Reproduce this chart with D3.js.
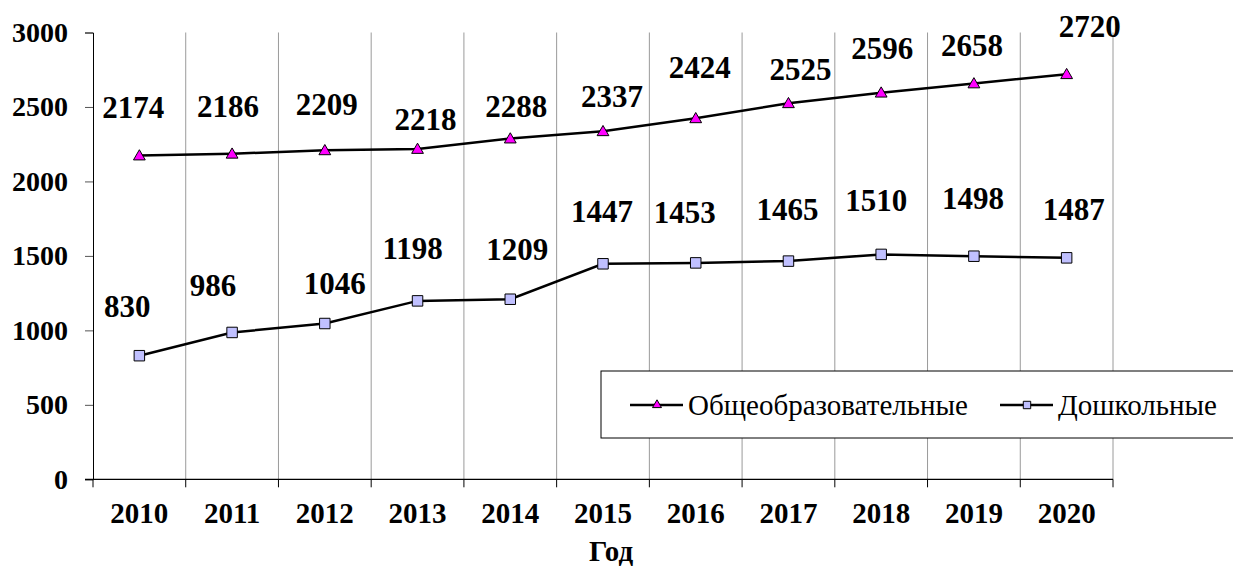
<!DOCTYPE html>
<html>
<head>
<meta charset="utf-8">
<script src="https://cdn.jsdelivr.net/npm/d3@7"></script>
<style>
  html, body { margin: 0; padding: 0; background: #fff; }
  svg { display: block; }
  svg text { font-family: "Liberation Serif", "Times New Roman", serif; }
</style>
</head>
<body>
<svg id="chart" width="1233" height="567"></svg>
<script>
// ---- data ----
const years = ["2010","2011","2012","2013","2014","2015","2016","2017","2018","2019","2020"];
const general = [2174, 2186, 2209, 2218, 2288, 2337, 2424, 2525, 2596, 2658, 2720];
const preschool = [830, 986, 1046, 1198, 1209, 1447, 1453, 1465, 1510, 1498, 1487];
const yTicks = [0, 500, 1000, 1500, 2000, 2500, 3000];
const seriesNames = ["Общеобразовательные", "Дошкольные"];
const xTitle = "Год";

// label nudges (px, relative to point) as placed in the original
const generalLabelDx = [-6, -4, 2, 8, 6, 9, 4, 12, 1, -2, 23];
const generalLabelDy = [-38, -37, -35, -19, -22, -24, -40, -23, -34, -27, -37];
const preschoolLabelDx = [-12, -19, 10, -5, 7, -1, -11, -1, -5, -1, 7];
const preschoolLabelDy = [-39, -36, -30, -42, -39, -42, -40, -41, -43, -47, -38];

// ---- layout ----
const plotL = 93, plotR = 1113, plotT = 32.5, plotB = 479.3;
const FONT = "'Liberation Serif', 'Times New Roman', serif";
const svg = d3.select("#chart");

const x = d3.scaleBand().domain(years).range([plotL, plotR]).padding(0);
const y = d3.scaleLinear().domain([0, 3000]).range([plotB, plotT]);
const cx = d => x(d) + x.bandwidth() / 2;

// vertical gridlines at category boundaries
const bounds = years.map(d => x(d) + x.bandwidth());
svg.append("g").selectAll("line").data(bounds).join("line")
  .attr("x1", d => d).attr("x2", d => d)
  .attr("y1", plotT).attr("y2", plotB)
  .attr("stroke", "#9a9a9a").attr("stroke-width", 1);

// y axis
const yAxis = d3.axisLeft(y).tickValues(yTicks).tickSize(8).tickPadding(17).tickFormat(d3.format("d"));
const gy = svg.append("g").attr("transform", `translate(${plotL},0)`).call(yAxis)
  .attr("font-family", FONT);
gy.select(".domain").attr("stroke", "#000").attr("stroke-width", 1);
gy.selectAll(".tick line").attr("stroke", "#555");
gy.selectAll(".tick text")
  .attr("fill", "#000")
  .style("font-size", "28px").style("font-weight", "bold");

// x axis
const xAxis = d3.axisBottom(x).tickSize(0).tickPadding(0);
const gx = svg.append("g").attr("transform", `translate(0,${plotB})`).call(xAxis)
  .attr("font-family", FONT);
gx.select(".domain").remove();
gx.append("line").attr("x1", plotL - 8).attr("x2", plotR).attr("y1", 0).attr("y2", 0)
  .attr("stroke", "#000").attr("stroke-width", 1.2);
gx.selectAll(".tick text")
  .attr("fill", "#000").attr("y", 44).attr("dy", 0)
  .style("font-size", "29px").style("font-weight", "bold");
// boundary ticks below axis
gx.append("g").selectAll("line").data([plotL].concat(bounds)).join("line")
  .attr("x1", d => d).attr("x2", d => d).attr("y1", 0).attr("y2", 8)
  .attr("stroke", "#000").attr("stroke-width", 1);

// axis title
svg.append("text")
  .attr("x", (plotL + plotR) / 2 + 8).attr("y", 561)
  .attr("text-anchor", "middle")
  .style("font-size", "29px").style("font-weight", "bold")
  .text(xTitle);

// lines
const line = d3.line().x((d, i) => cx(years[i])).y(d => y(d));
svg.append("path").datum(general).attr("d", line)
  .attr("fill", "none").attr("stroke", "#000").attr("stroke-width", 2.5);
svg.append("path").datum(preschool).attr("d", line)
  .attr("fill", "none").attr("stroke", "#000").attr("stroke-width", 2.5);

// markers
const tri = d3.symbol().type(d3.symbolTriangle).size(60);
const sq = d3.symbol().type(d3.symbolSquare).size(110);
svg.append("g").selectAll("path").data(general).join("path")
  .attr("d", tri)
  .attr("transform", (d, i) => `translate(${cx(years[i])},${y(d) + 1})`)
  .attr("fill", "#ff00ff").attr("stroke", "#000").attr("stroke-width", 1);
svg.append("g").selectAll("path").data(preschool).join("path")
  .attr("d", sq)
  .attr("transform", (d, i) => `translate(${cx(years[i])},${y(d)})`)
  .attr("fill", "#c0c0ff").attr("stroke", "#000").attr("stroke-width", 1);

// data labels
function labels(vals, dxs, dys) {
  svg.append("g").selectAll("text").data(vals).join("text")
    .attr("x", (d, i) => cx(years[i]) + dxs[i])
    .attr("y", (d, i) => y(d) + dys[i])
    .attr("text-anchor", "middle")
    .style("font-size", "31px").style("font-weight", "bold")
    .attr("fill", "#000")
    .text(d => d);
}
labels(general, generalLabelDx, generalLabelDy);
labels(preschool, preschoolLabelDx, preschoolLabelDy);

// legend
const lg = svg.append("g");
lg.append("rect").attr("x", 601).attr("y", 371).attr("width", 660).attr("height", 67)
  .attr("fill", "#fff").attr("stroke", "#000").attr("stroke-width", 1);
const entries = [
  { name: seriesNames[0], x0: 630, sym: d3.symbol().type(d3.symbolTriangle).size(35), fill: "#ff00ff" },
  { name: seriesNames[1], x0: 1000, sym: d3.symbol().type(d3.symbolSquare).size(55), fill: "#c0c0ff" }
];
entries.forEach(e => {
  lg.append("line").attr("x1", e.x0).attr("x2", e.x0 + 53).attr("y1", 405).attr("y2", 405)
    .attr("stroke", "#000").attr("stroke-width", 2.5);
  lg.append("path").attr("d", e.sym()).attr("transform", `translate(${e.x0 + 27},405)`)
    .attr("fill", e.fill).attr("stroke", "#000").attr("stroke-width", 1);
  lg.append("text").attr("x", e.x0 + 58).attr("y", 415)
    .style("font-size", "29px").attr("fill", "#000").text(e.name);
});
</script>
</body>
</html>
